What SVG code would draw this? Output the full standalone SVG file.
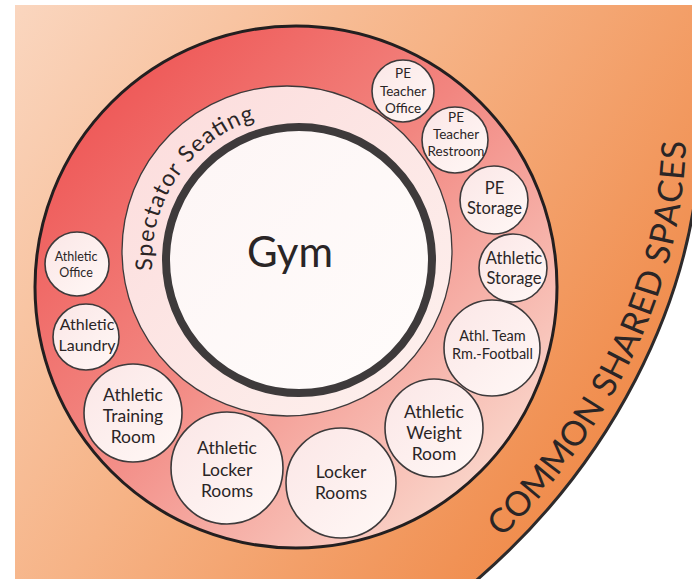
<svg xmlns="http://www.w3.org/2000/svg" width="692" height="579" viewBox="0 0 692 579">
<defs>
<linearGradient id="gOrange" gradientUnits="userSpaceOnUse" x1="15" y1="5" x2="620" y2="420">
<stop offset="0" stop-color="#fad6bf"/>
<stop offset="0.5" stop-color="#f6b386"/>
<stop offset="1" stop-color="#f08c4c"/>
</linearGradient>
<linearGradient id="gRed" gradientUnits="userSpaceOnUse" x1="70" y1="60" x2="520" y2="520">
<stop offset="0" stop-color="#ee5050"/>
<stop offset="0.45" stop-color="#f28680"/>
<stop offset="1" stop-color="#fbe2d6"/>
</linearGradient>
<linearGradient id="gSeat" gradientUnits="userSpaceOnUse" x1="130" y1="90" x2="450" y2="420">
<stop offset="0" stop-color="#fcdcdc"/>
<stop offset="1" stop-color="#fdf1ee"/>
</linearGradient>
<linearGradient id="gGym" gradientUnits="userSpaceOnUse" x1="170" y1="130" x2="430" y2="390">
<stop offset="0" stop-color="#fdf5f5"/>
<stop offset="1" stop-color="#fffcfb"/>
</linearGradient>
<linearGradient id="gNode" x1="0" y1="0" x2="1" y2="1">
<stop offset="0" stop-color="#fbe6e6"/>
<stop offset="1" stop-color="#fff8f6"/>
</linearGradient>
<clipPath id="cpFrame"><rect x="15" y="5" width="677" height="574"/></clipPath>
<path id="pSeat" d="M 152.4 270.3 A 147 147 0 0 1 337 118"/>
<path id="pCommon" d="M 455 580 C 600 460, 683 298, 686 140"/>
</defs>
<style>
.node circle { fill: url(#gNode); stroke: #3d3a3b; stroke-width: 1.6; }
.node text, .lbl { font-family: Lato, "Open Sans", "Liberation Sans", sans-serif; fill: #2a2526; text-anchor: middle; }
.arc { font-family: Lato, "Open Sans", "Liberation Sans", sans-serif; fill: #2a2526; text-anchor: start; }
</style>
<g id="background" clip-path="url(#cpFrame)">
<path d="M 0 0 H 720 V 140 L 700 140 C 696 300, 610 470, 465 590 L 0 600 Z" fill="url(#gOrange)"/>
<path d="M 700 140 C 696 300, 610 470, 465 590" fill="none" stroke="#2d2a2b" stroke-width="3"/>
</g>
<g id="common-shared-spaces">
<text class="arc" font-size="34"><textPath href="#pCommon" startOffset="63" textLength="168" lengthAdjust="spacing">COMMON</textPath></text>
<text class="arc" font-size="34"><textPath href="#pCommon" startOffset="240" textLength="136" lengthAdjust="spacing">SHARED</textPath></text>
<text class="arc" font-size="34"><textPath href="#pCommon" startOffset="385" textLength="126" lengthAdjust="spacing">SPACES</textPath></text>
</g>
<g id="ring">
<circle cx="296" cy="287" r="261" fill="url(#gRed)" stroke="#231f20" stroke-width="3"/>
</g>
<g id="spectator-seating">
<circle cx="287" cy="251" r="165" fill="url(#gSeat)" stroke="#3d3a3b" stroke-width="1.3"/>
<text class="arc" font-size="23"><textPath href="#pSeat" textLength="196" lengthAdjust="spacing">Spectator Seating</textPath></text>
</g>
<g id="gym">
<circle cx="299" cy="260" r="133" fill="url(#gGym)" stroke="#3e3a3b" stroke-width="8"/>
<text class="lbl" x="290" y="267" font-size="42">Gym</text>
</g>
<g id="connectors"></g>
<g id="pe-teacher-office" class="node">
<circle cx="403" cy="91" r="31"/>
<text font-size="13.5"><tspan x="403" y="78">PE</tspan><tspan x="403" y="96">Teacher</tspan><tspan x="403" y="113">Office</tspan></text>
</g>
<g id="pe-teacher-restroom" class="node">
<circle cx="455" cy="140" r="33"/>
<text font-size="13.5"><tspan x="456" y="122">PE</tspan><tspan x="456" y="139">Teacher</tspan><tspan x="456" y="156">Restroom</tspan></text>
</g>
<g id="pe-storage" class="node">
<circle cx="494" cy="200" r="34"/>
<text font-size="16.5"><tspan x="494.5" y="193.5">PE</tspan><tspan x="494.5" y="214">Storage</tspan></text>
</g>
<g id="athletic-storage" class="node">
<circle cx="513" cy="268" r="34"/>
<text font-size="16.5"><tspan x="514" y="263.5">Athletic</tspan><tspan x="514" y="284">Storage</tspan></text>
</g>
<g id="athl-team-football" class="node">
<circle cx="492" cy="348" r="48"/>
<text font-size="14.5"><tspan x="492.5" y="341">Athl. Team</tspan><tspan x="492.5" y="358.5">Rm.-Football</tspan></text>
</g>
<g id="athletic-weight-room" class="node">
<circle cx="434" cy="428" r="49"/>
<text font-size="17.5"><tspan x="434" y="418">Athletic</tspan><tspan x="434" y="439">Weight</tspan><tspan x="434" y="460">Room</tspan></text>
</g>
<g id="locker-rooms" class="node">
<circle cx="341" cy="483" r="55"/>
<text font-size="17.5"><tspan x="341" y="478">Locker</tspan><tspan x="341" y="499">Rooms</tspan></text>
</g>
<g id="athletic-locker-rooms" class="node">
<circle cx="227" cy="468" r="56"/>
<text font-size="17.5"><tspan x="227" y="454">Athletic</tspan><tspan x="227" y="475.5">Locker</tspan><tspan x="227" y="497">Rooms</tspan></text>
</g>
<g id="athletic-training-room" class="node">
<circle cx="133" cy="413" r="49"/>
<text font-size="17.5"><tspan x="133" y="401">Athletic</tspan><tspan x="133" y="422">Training</tspan><tspan x="133" y="443">Room</tspan></text>
</g>
<g id="athletic-laundry" class="node">
<circle cx="86" cy="337" r="33"/>
<text font-size="16"><tspan x="87" y="330">Athletic</tspan><tspan x="87" y="351">Laundry</tspan></text>
</g>
<g id="athletic-office" class="node">
<circle cx="77" cy="264" r="32"/>
<text font-size="12.5"><tspan x="76" y="261">Athletic</tspan><tspan x="76" y="277">Office</tspan></text>
</g>
</svg>
